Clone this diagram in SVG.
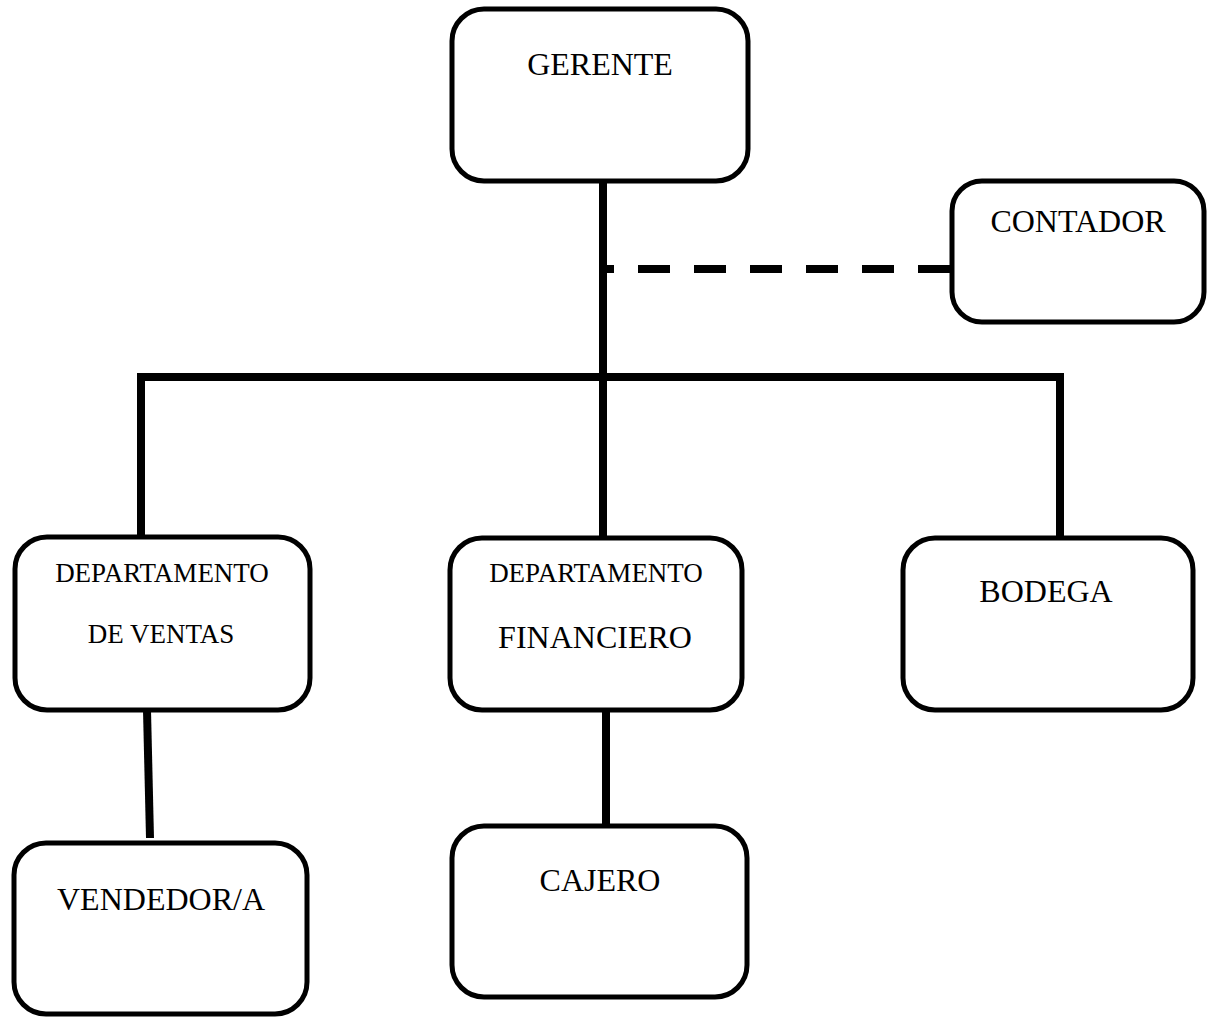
<svg xmlns="http://www.w3.org/2000/svg" width="1216" height="1017" viewBox="0 0 1216 1017">
<style>
.box{fill:#fff;stroke:#000;stroke-width:5}
.t{font-family:"Liberation Serif","Times New Roman",serif;fill:#000;text-anchor:middle}
.big{font-size:32px}
.small{font-size:27px}
.ln{stroke:#000;stroke-width:8;fill:none}
</style>
<rect width="1216" height="1017" fill="#fff"/>
<g id="connectors">
<line class="ln" x1="603" y1="181" x2="603" y2="538"/>
<line class="ln" x1="950" y1="269" x2="604" y2="269" stroke-dasharray="32 24"/>
<polyline class="ln" points="141,538 141,377 1060,377 1060,538"/>
<line class="ln" x1="147" y1="710" x2="150" y2="838"/>
<line class="ln" x1="606" y1="710" x2="606" y2="826"/>
</g>
<g id="gerente">
<rect class="box" x="452" y="9" width="296" height="172" rx="32"/>
<text class="t big" x="600" y="75">GERENTE</text>
</g>
<g id="contador">
<rect class="box" x="952" y="181" width="252" height="141" rx="30"/>
<text class="t big" x="1078" y="232">CONTADOR</text>
</g>
<g id="ventas">
<rect class="box" x="15" y="537" width="295" height="173" rx="32"/>
<text class="t small" x="162" y="582">DEPARTAMENTO</text>
<text class="t small" x="161" y="643">DE VENTAS</text>
</g>
<g id="financiero">
<rect class="box" x="450" y="538" width="292" height="172" rx="32"/>
<text class="t small" x="596" y="582">DEPARTAMENTO</text>
<text class="t big" x="595" y="648">FINANCIERO</text>
</g>
<g id="bodega">
<rect class="box" x="903" y="538" width="290" height="172" rx="32"/>
<text class="t big" x="1046" y="602">BODEGA</text>
</g>
<g id="vendedor">
<rect class="box" x="14" y="843" width="293" height="171" rx="32"/>
<text class="t big" x="161" y="910">VENDEDOR/A</text>
</g>
<g id="cajero">
<rect class="box" x="452" y="826" width="295" height="171" rx="32"/>
<text class="t big" x="600" y="891">CAJERO</text>
</g>
</svg>
